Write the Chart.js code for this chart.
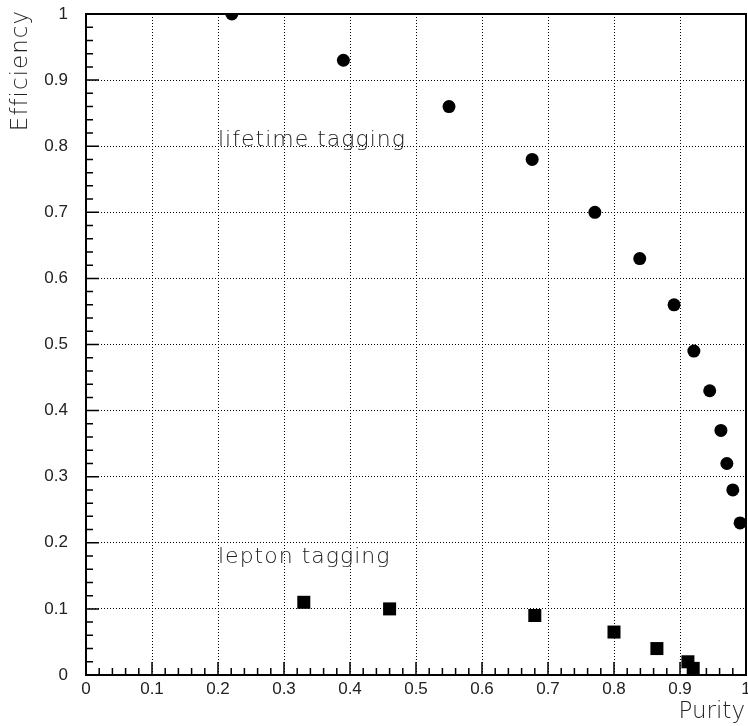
<!DOCTYPE html>
<html>
<head>
<meta charset="utf-8">
<script src="https://cdn.jsdelivr.net/npm/chart.js@4/dist/chart.umd.min.js"></script>
<style>
  html, body { margin: 0; padding: 0; background: #fff; }
  canvas { display: block; }
</style>
</head>
<body>
<canvas id="chart" width="748" height="726"></canvas>
<script>
// lifetime tagging points
const lifetimePurity = [0.221, 0.39, 0.55, 0.676, 0.771, 0.839, 0.891, 0.921, 0.945, 0.962, 0.971, 0.98, 0.991];
const lifetimeEff = [1.0, 0.93, 0.86, 0.78, 0.70, 0.63, 0.56, 0.49, 0.43, 0.37, 0.32, 0.28, 0.23];
// lepton tagging points
const leptonPurity = [0.33, 0.46, 0.68, 0.80, 0.865, 0.912, 0.92];
const leptonEff = [0.11, 0.10, 0.09, 0.065, 0.04, 0.02, 0.01];

const xTickLabels = ['0', '0.1', '0.2', '0.3', '0.4', '0.5', '0.6', '0.7', '0.8', '0.9', '1'];
const yTickLabels = ['0', '0.1', '0.2', '0.3', '0.4', '0.5', '0.6', '0.7', '0.8', '0.9', '1'];

const xTitle = 'Purity';
const yTitle = 'Efficiency';
const notes = [
  { text: 'lifetime tagging', x: 0.2, y: 0.8 },
  { text: 'lepton tagging', x: 0.2, y: 0.17 }
];

const toPoints = (xs, ys) => xs.map((x, i) => ({ x: x, y: ys[i] }));

// frame, inside ticks, titles and notes
const decorations = {
  id: 'decorations',
  afterDraw(chart) {
    const { ctx, chartArea: a, scales } = chart;
    const xs = scales.x, ys = scales.y;
    ctx.save();
    ctx.strokeStyle = '#000';
    ctx.lineWidth = 1.5;
    ctx.beginPath();
    for (let i = 1; i < 50; i++) {
      const v = i / 50;
      const len = i % 5 === 0 ? 13 : 7;
      const px = xs.getPixelForValue(v);
      ctx.moveTo(px, a.bottom);
      ctx.lineTo(px, a.bottom - len);
      const py = ys.getPixelForValue(v);
      ctx.moveTo(a.left, py);
      ctx.lineTo(a.left + len, py);
    }
    ctx.stroke();

    ctx.lineWidth = 2;
    ctx.strokeRect(a.left, a.top, a.right - a.left, a.bottom - a.top);

    ctx.fillStyle = '#222';
    ctx.font = '200 23px "DejaVu Sans"';
    ctx.textBaseline = 'alphabetic';
    ctx.textAlign = 'right';
    ctx.fillText(xTitle, 745, 718);
    ctx.save();
    ctx.letterSpacing = '1px';
    ctx.translate(27, 10);
    ctx.rotate(-Math.PI / 2);
    ctx.fillText(yTitle, 0, 0);
    ctx.restore();

    ctx.font = '200 22px "DejaVu Sans"';
    ctx.letterSpacing = '1px';
    ctx.textAlign = 'left';
    notes.forEach(n => {
      ctx.fillText(n.text, xs.getPixelForValue(n.x), ys.getPixelForValue(n.y));
    });
    ctx.restore();
  }
};

const tickFont = { family: '"Liberation Sans", Arial, sans-serif', size: 17 };

new Chart(document.getElementById('chart'), {
  type: 'scatter',
  data: {
    datasets: [
      {
        label: 'lifetime tagging',
        data: toPoints(lifetimePurity, lifetimeEff),
        pointStyle: 'circle',
        pointRadius: 6.5,
        backgroundColor: '#000',
        borderWidth: 0
      },
      {
        label: 'lepton tagging',
        data: toPoints(leptonPurity, leptonEff),
        pointStyle: 'rect',
        pointRadius: 9.2,
        backgroundColor: '#000',
        borderWidth: 0
      }
    ]
  },
  options: {
    responsive: false,
    animation: false,
    layout: { autoPadding: false, padding: { top: 14, right: 2, left: 0, bottom: 0 } },
    plugins: {
      legend: { display: false },
      tooltip: { enabled: false }
    },
    scales: {
      x: {
        type: 'linear',
        min: 0,
        max: 1,
        ticks: {
          stepSize: 0.1,
          padding: 4,
          color: '#222',
          font: tickFont,
          maxRotation: 0,
          callback: (v, i) => xTickLabels[i]
        },
        grid: { color: '#000', lineWidth: 1, drawTicks: false },
        border: { display: false, dash: [1, 2] },
        afterFit(scale) {
          scale.height = 51;
          scale.paddingLeft = 0;
          scale.paddingRight = 0;
        }
      },
      y: {
        type: 'linear',
        min: 0,
        max: 1,
        ticks: {
          stepSize: 0.1,
          padding: 18,
          color: '#222',
          font: tickFont,
          callback: (v, i) => yTickLabels[i]
        },
        grid: { color: '#000', lineWidth: 1, drawTicks: false },
        border: { display: false, dash: [1, 2] },
        afterFit(scale) {
          scale.width = 86;
          scale.paddingTop = 0;
          scale.paddingBottom = 0;
        }
      }
    }
  },
  plugins: [decorations]
});
</script>
</body>
</html>
